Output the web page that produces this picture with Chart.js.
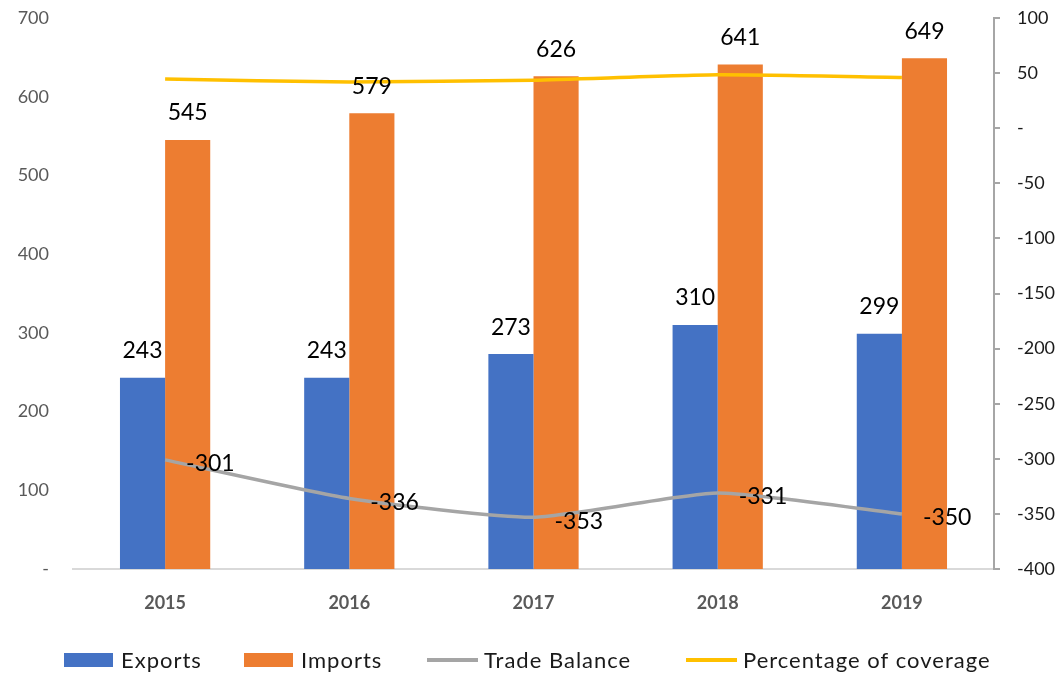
<!DOCTYPE html>
<html>
<head>
<meta charset="utf-8">
<script src="https://cdn.jsdelivr.net/npm/chart.js@4.4.1/dist/chart.umd.min.js"></script>
<style>
html,body{margin:0;padding:0;background:#fff;}
#wrap{width:1058px;height:675px;position:relative;}
</style>
</head>
<body>
<div id="wrap"><canvas id="c" width="1058" height="675"></canvas></div>
<script>
const years = ['2015','2016','2017','2018','2019'];
const exportsData = [243, 243, 273, 310, 299];
const importsData = [545, 579, 626, 641, 649];
const tradeBalance = [-301, -336, -353, -331, -350];
const coverage = [44.6, 42.0, 43.6, 48.4, 46.1];
const leftTicks = [0, 100, 200, 300, 400, 500, 600, 700];
const rightTicks = [-400, -350, -300, -250, -200, -150, -100, -50, 0, 50, 100];
const legendNames = ['Exports', 'Imports', 'Trade Balance', 'Percentage of coverage'];

const FONT = 'Lato, "Open Sans", sans-serif';
const AXIS_COLOR = '#595959';

const labelPlugin = {
  id: 'labels',
  afterDatasetsDraw(chart) {
    const ctx = chart.ctx;
    ctx.save();
    ctx.font = '23px ' + FONT;
    ctx.fillStyle = '#000';
    ctx.textBaseline = 'middle';
    [0, 1].forEach(di => {
      const meta = chart.getDatasetMeta(di);
      meta.data.forEach((el, i) => {
        ctx.textAlign = 'center';
        ctx.fillText(String(chart.data.datasets[di].data[i]), el.x, el.y - 27);
      });
    });
    const meta = chart.getDatasetMeta(2);
    meta.data.forEach((el, i) => {
      ctx.textAlign = 'left';
      ctx.fillText(String(tradeBalance[i]), el.x + 21, el.y + 4);
    });
    ctx.restore();
  },
  afterDraw(chart) {
    const ctx = chart.ctx;
    ctx.save();
    ctx.font = '22px ' + FONT;
    try { ctx.letterSpacing = '1px'; } catch (e) {}
    ctx.textBaseline = 'middle';
    const ds = chart.data.datasets;
    const xs = [64, 244, 427, 686];
    const y = 660;
    legendNames.forEach((name, i) => {
      const x = xs[i];
      const col = ds[i].type === 'bar' ? ds[i].backgroundColor : ds[i].borderColor;
      if (ds[i].type === 'bar') {
        ctx.fillStyle = col;
        ctx.fillRect(x, y - 7, 49, 14);
      } else {
        ctx.strokeStyle = col;
        ctx.lineWidth = 4;
        ctx.beginPath();
        ctx.moveTo(x, y);
        ctx.lineTo(x + 51, y);
        ctx.stroke();
      }
      ctx.fillStyle = '#1a1a1a';
      ctx.textAlign = 'left';
      ctx.fillText(name, x + 57, y + 1);
    });
    ctx.restore();
  }
};

function zeroPad(s) { s.paddingTop = 0; s.paddingBottom = 0; }

new Chart(document.getElementById('c'), {
  data: {
    labels: years,
    datasets: [
      {type: 'bar', label: legendNames[0], data: exportsData, backgroundColor: '#4472C4', yAxisID: 'y', order: 2,
       categoryPercentage: 0.49, barPercentage: 1.0},
      {type: 'bar', label: legendNames[1], data: importsData, backgroundColor: '#ED7D31', yAxisID: 'y', order: 2,
       categoryPercentage: 0.49, barPercentage: 1.0},
      {type: 'line', label: legendNames[2], data: tradeBalance, borderColor: '#A5A5A5', borderWidth: 3.5,
       pointRadius: 0, tension: 0.18, yAxisID: 'y1', order: 1},
      {type: 'line', label: legendNames[3], data: coverage, borderColor: '#FFC000', borderWidth: 3.5,
       pointRadius: 0, tension: 0.18, yAxisID: 'y1', order: 1}
    ]
  },
  options: {
    responsive: false,
    animation: false,
    layout: {padding: {top: 18, left: 0, right: 0, bottom: 0}},
    plugins: {legend: {display: false}, tooltip: {enabled: false}},
    scales: {
      x: {
        grid: {display: false, drawTicks: false},
        border: {display: true, color: '#D9D9D9', width: 2},
        ticks: {color: AXIS_COLOR, font: {family: FONT, size: 18, weight: 'bold'}, padding: 23},
        afterFit(s) { s.height = 106; }
      },
      y: {
        position: 'left', min: 0, max: 700,
        afterBuildTicks(s) { s.ticks = leftTicks.map(v => ({value: v})); },
        grid: {display: false, drawTicks: false},
        border: {display: false},
        ticks: {color: AXIS_COLOR, font: {family: FONT, size: 18}, padding: 24,
                callback: v => v === 0 ? '-' : v},
        afterFit(s) { s.width = 73; zeroPad(s); }
      },
      y1: {
        position: 'right', min: -400, max: 100,
        afterBuildTicks(s) { s.ticks = rightTicks.map(v => ({value: v})); },
        grid: {display: true, drawOnChartArea: false, drawTicks: true, tickLength: 6, color: '#A6A6A6', lineWidth: 2},
        border: {display: true, color: '#A6A6A6', width: 2},
        ticks: {color: '#1a1a1a', font: {family: FONT, size: 18}, padding: 17,
                callback: v => v === 0 ? '-' : v},
        afterFit(s) { s.width = 64; zeroPad(s); }
      }
    }
  },
  plugins: [labelPlugin]
});
</script>
</body>
</html>
